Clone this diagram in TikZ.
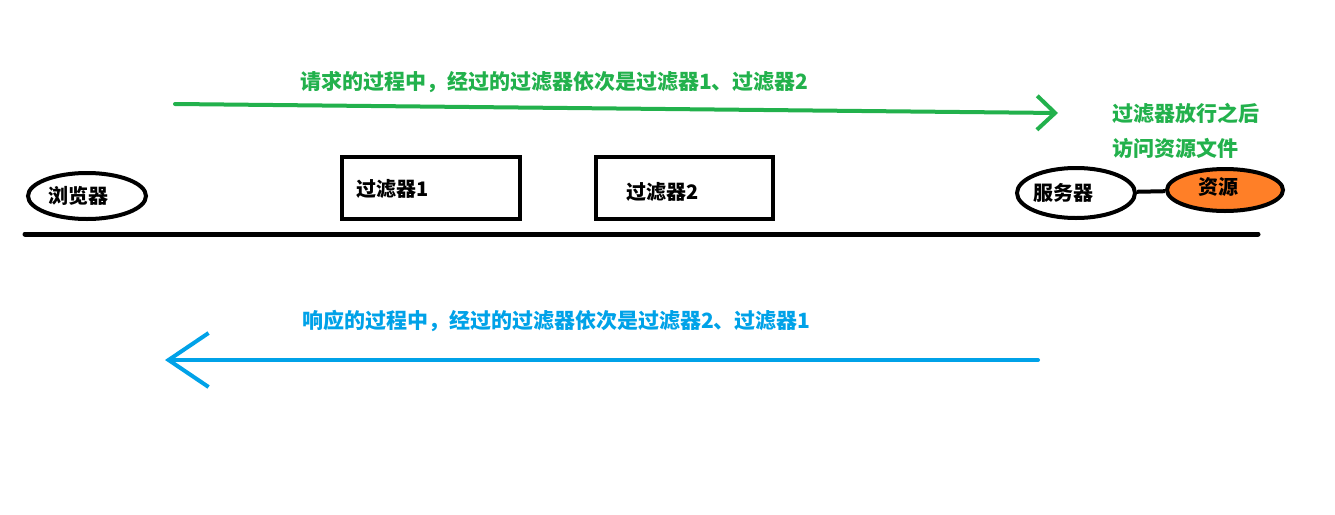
\documentclass[tikz,border=0pt]{standalone}
\usepackage{fontspec}
\newfontfamily\cjk{Noto Sans CJK SC}
\usepackage{xcolor}
\usetikzlibrary{arrows.meta,positioning,shapes.geometric}
\definecolor{paintgreen}{HTML}{22B14C}
\definecolor{paintblue}{HTML}{00A2E8}
\definecolor{paintorange}{HTML}{FF7F27}
\tikzstyle{label}=[font=\cjk\bfseries\fontsize{20}{22}\selectfont, inner sep=0pt]
\tikzstyle{note}=[font=\cjk\bfseries\fontsize{21}{23}\selectfont, inner sep=0pt, anchor=west]
\tikzstyle{endpoint}=[ellipse, draw, line width=4pt, label]
\tikzstyle{filter}=[rectangle, draw, line width=4pt, label]

\begin{document}
\begin{tikzpicture}[x=1pt,y=-1pt]
\useasboundingbox[fill=white] (0,0) rectangle (1335,514);

% browser and server
\node[endpoint, minimum width=118pt, minimum height=46pt] (browser) at (87,196) {};
\node[label, anchor=west] at (48,196) {浏览器};
\node[endpoint, minimum width=118pt, minimum height=50pt] (server) at (1076,193) {};
\node[label, anchor=west] at (1033,193) {服务器};
\node[endpoint, fill=paintorange, minimum width=116pt, minimum height=42pt] (res) at (1225,190) {};
\node[label, anchor=west] at (1198,187) {资源};
\draw[line width=4pt] (server) -- (res);

% filters
\node[filter, minimum width=178pt, minimum height=62pt] (f1) at (430.5,187.5) {};
\node[label, anchor=west] at (356,189) {过滤器1};
\node[filter, minimum width=177pt, minimum height=62pt] (f2) at (684,187.5) {};
\node[label, anchor=west] at (626,192) {过滤器2};

% line
\coordinate (l1) at (25,234); \coordinate (l2) at (1258,234);
\draw[line width=5pt, line cap=round] (l1) -- (l2);

% request
\coordinate (q1) at (175,104); \coordinate (q2) at (1058,113);
\draw[paintgreen, line width=4pt, line cap=round,
  -{Straight Barb[length=18pt, width=34pt, line width=4pt]}] (q1) -- (q2);
\node[note, paintgreen] (qtext) at (300,82) {请求的过程中，经过的过滤器依次是过滤器1、过滤器2};
\node[note, paintgreen] (pass1) at (1112,113) {过滤器放行之后};
\node[note, paintgreen] (pass2) at (1112,148) {访问资源文件};

% response
\coordinate (r1) at (1038,360); \coordinate (r2) at (165,360);
\draw[paintblue, line width=4pt, line cap=round,
  -{Straight Barb[length=40pt, width=54pt, line width=4pt]}] (r1) -- (r2);
\node[note, paintblue] (rtext) at (302,321) {响应的过程中，经过的过滤器依次是过滤器2、过滤器1};

\end{tikzpicture}
\end{document}
